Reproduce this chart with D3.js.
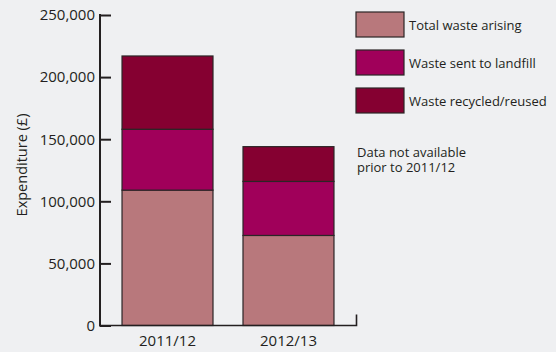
<!DOCTYPE html>
<html>
<head>
<meta charset="utf-8">
<script src="https://cdn.jsdelivr.net/npm/d3@7"></script>
<style>
  html, body { margin: 0; padding: 0; background: #eff0f2; }
  svg { display: block; }
  text { font-family: "Open Sans", "Noto Sans", sans-serif; fill: #231f20; }
</style>
</head>
<body>
<svg id="chart" width="556" height="352"></svg>
<script>
// Waste expenditure by year, stacked by component
const years = ["2011/12", "2012/13"];
const seriesNames = ["Total waste arising", "Waste sent to landfill", "Waste recycled/reused"];
const totalArising = [109000, 72500];
const sentToLandfill = [49000, 43500];
const recycledReused = [59000, 28000];
const yTicks = [0, 50000, 100000, 150000, 200000, 250000];
const seriesColors = ["#b8787c", "#a0005a", "#850031"];
const noteLines = ["Data not available", "prior to 2011/12"];

const rows = years.map((y, i) => ({
  year: y,
  [seriesNames[0]]: totalArising[i],
  [seriesNames[1]]: sentToLandfill[i],
  [seriesNames[2]]: recycledReused[i]
}));

const svg = d3.select("#chart");
const ink = "#231f20";

const x = d3.scaleBand().domain(years).range([100, 356]).paddingInner(0.248).paddingOuter(0.182);
const y = d3.scaleLinear().domain([0, 250000]).range([325.5, 15]);

const stack = d3.stack().keys(seriesNames)(rows);

// stacked bars
svg.append("g").selectAll("g")
  .data(stack)
  .join("g")
  .attr("fill", (d, i) => seriesColors[i])
  .selectAll("rect")
  .data(d => d)
  .join("rect")
  .attr("x", d => x(d.data.year))
  .attr("y", d => y(d[1]))
  .attr("width", x.bandwidth())
  .attr("height", d => y(d[0]) - y(d[1]))
  .attr("stroke", "#2b2526")
  .attr("stroke-width", 1.2);

// y axis: ticks point inward
const yAxis = svg.append("g")
  .attr("transform", "translate(100,0)")
  .call(d3.axisRight(y).tickValues(yTicks).tickSize(11).tickFormat(d3.format(",")));
yAxis.select(".domain").remove();
yAxis.selectAll(".tick line").attr("stroke", ink).attr("stroke-width", 2);
yAxis.selectAll(".tick text")
  .attr("x", -5)
  .attr("text-anchor", "end")
  .attr("font-size", 15)
  .attr("font-family", null)
  .attr("fill", ink);

svg.append("line")
  .attr("x1", 100).attr("x2", 100)
  .attr("y1", y(250000) - 1).attr("y2", y(0) + 1)
  .attr("stroke", ink).attr("stroke-width", 2);

// x baseline with an upturned end
svg.append("path")
  .attr("d", `M100,${y(0)}H356.5V${y(0) - 11}`)
  .attr("fill", "none")
  .attr("stroke", ink)
  .attr("stroke-width", 1.6);

// x labels
svg.append("g").selectAll("text")
  .data(years)
  .join("text")
  .attr("x", d => x(d) + x.bandwidth() / 2)
  .attr("y", 346)
  .attr("text-anchor", "middle")
  .attr("font-size", 15)
  .text(d => d);

// y axis title
svg.append("text")
  .attr("transform", "translate(27,165) rotate(-90)")
  .attr("text-anchor", "middle")
  .attr("font-size", 14.5)
  .text("Expenditure (£)");

// legend
const legend = svg.append("g").selectAll("g")
  .data(seriesNames)
  .join("g")
  .attr("transform", (d, i) => `translate(356,${12 + i * 38})`);
legend.append("rect")
  .attr("width", 48).attr("height", 25)
  .attr("fill", (d, i) => seriesColors[i])
  .attr("stroke", "#2b2526").attr("stroke-width", 1.2);
legend.append("text")
  .attr("x", 53).attr("y", 17.5)
  .attr("font-size", 13)
  .text(d => d);

// note, two lines in one text block
svg.append("text")
  .attr("x", 357)
  .attr("y", 157)
  .attr("font-size", 13)
  .attr("fill", "#333")
  .selectAll("tspan")
  .data(noteLines)
  .join("tspan")
  .attr("x", 357)
  .attr("dy", (d, i) => i === 0 ? 0 : 15)
  .text(d => d);
</script>
</body>
</html>
